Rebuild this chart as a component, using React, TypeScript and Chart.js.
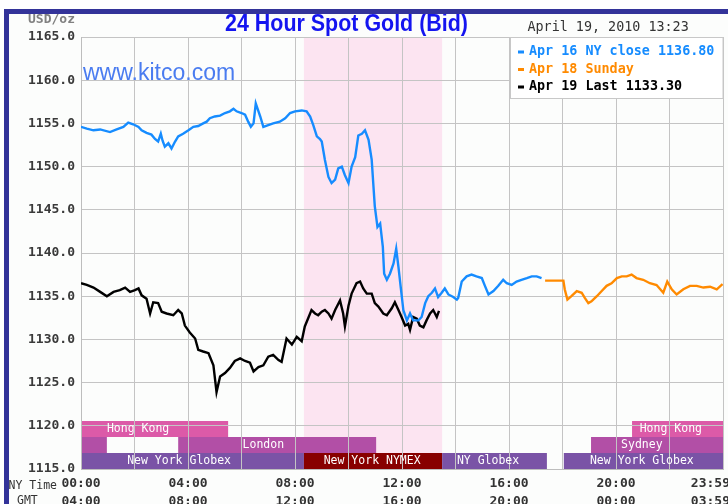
import React, { useEffect, useRef } from 'react';
import { Chart, registerables } from 'chart.js';

Chart.register(...registerables);

// ---------- DATA ----------
const nyTimeLabels = ['00:00', '04:00', '08:00', '12:00', '16:00', '20:00', '23:59'];
const gmtLabels = ['04:00', '08:00', '12:00', '16:00', '20:00', '00:00', '03:59'];
const labelTimes = ['00:00', '04:00', '08:00', '12:00', '16:00', '20:00', '23:59'];

const legendLabels = ['Apr 16 NY close 1136.80', 'Apr 18 Sunday', 'Apr 19 Last 1133.30'];

const apr16Times = ['00:00','00:13','00:28','00:43','01:05','01:20','01:35','01:46','01:57','02:09','02:16','02:27','02:38','02:46','02:53','02:59','03:03','03:08','03:16','03:23','03:31','03:38','03:49','04:01','04:12','04:23','04:34','04:42','04:49','05:00','05:12','05:23','05:34','05:42','05:49','06:00','06:08','06:15','06:21','06:27','06:32','06:36','06:42','06:49','07:00','07:11','07:26','07:38','07:49','08:00','08:15','08:26','08:34','08:41','08:49','08:56','09:00','09:07','09:15','09:22','09:30','09:37','09:45','09:52','10:00','10:07','10:15','10:22','10:30','10:37','10:45','10:52','10:56','10:59','11:05','11:11','11:17','11:20','11:26','11:33','11:41','11:47','11:52','11:57','12:03','12:11','12:18','12:25','12:37','12:44','12:52','12:59','13:07','13:14','13:21','13:29','13:36','13:44','13:55','14:03','14:06','14:14','14:25','14:36','14:47','14:59','15:06','15:14','15:25','15:36','15:47','15:55','16:06','16:17','16:28','16:40','16:51','17:02','17:13'];
const apr16Values = [1154.6,1154.4,1154.2,1154.3,1154.0,1154.3,1154.6,1155.1,1154.9,1154.6,1154.2,1153.9,1153.7,1153.2,1152.9,1153.8,1153.0,1152.3,1152.7,1152.1,1152.9,1153.5,1153.8,1154.2,1154.6,1154.7,1155.0,1155.2,1155.6,1155.8,1155.9,1156.2,1156.4,1156.7,1156.4,1156.2,1156.0,1155.2,1154.6,1155.0,1157.3,1156.7,1155.8,1154.6,1154.8,1155.0,1155.2,1155.6,1156.2,1156.4,1156.5,1156.4,1155.8,1154.8,1153.5,1153.2,1152.9,1150.8,1148.8,1148.1,1148.5,1149.8,1150.0,1149.0,1148.1,1150.0,1151.1,1153.6,1153.8,1154.2,1153.1,1150.8,1147.7,1145.4,1143.0,1143.4,1140.7,1137.6,1136.9,1137.6,1138.8,1140.5,1138.4,1136.1,1133.4,1132.2,1133.0,1132.2,1132.2,1132.6,1134.2,1135.0,1135.4,1135.9,1134.9,1135.4,1135.9,1135.2,1134.9,1134.6,1134.8,1136.7,1137.3,1137.5,1137.3,1137.1,1136.2,1135.2,1135.6,1136.2,1136.9,1136.5,1136.3,1136.7,1136.9,1137.1,1137.3,1137.3,1137.1];

const apr18Times = ['17:21','18:02','18:05','18:11','18:20','18:32','18:43','18:50','18:58','19:05','19:17','19:28','19:39','19:50','20:02','20:13','20:24','20:35','20:46','21:01','21:16','21:31','21:46','21:55','22:05','22:16','22:31','22:46','23:01','23:16','23:31','23:46','23:59'];
const apr18Values = [1136.8,1136.8,1135.8,1134.6,1135.0,1135.6,1135.4,1134.8,1134.2,1134.4,1135.0,1135.6,1136.2,1136.5,1137.1,1137.3,1137.3,1137.5,1137.1,1136.9,1136.5,1136.3,1135.4,1136.7,1135.8,1135.2,1135.8,1136.2,1136.2,1136.0,1136.1,1135.8,1136.4];

const apr19Times = ['00:00','00:13','00:28','00:43','00:58','01:13','01:27','01:39','01:50','02:01','02:09','02:16','02:27','02:35','02:42','02:53','03:01','03:12','03:27','03:38','03:46','03:53','04:04','04:16','04:23','04:34','04:46','04:57','05:04','05:12','05:23','05:34','05:45','05:57','06:08','06:19','06:27','06:38','06:49','07:00','07:11','07:23','07:30','07:41','07:53','08:04','08:15','08:22','08:30','08:37','08:45','08:52','09:00','09:07','09:15','09:22','09:30','09:41','09:48','09:52','10:00','10:07','10:18','10:26','10:33','10:41','10:52','10:59','11:07','11:18','11:26','11:37','11:44','11:52','11:59','12:07','12:14','12:18','12:25','12:33','12:40','12:48','12:55','13:03','13:10','13:18','13:23'];
const apr19Values = [1136.5,1136.3,1136.0,1135.5,1135.0,1135.5,1135.7,1136.0,1135.5,1135.7,1135.9,1135.1,1134.7,1133.0,1134.3,1134.2,1133.2,1133.0,1132.8,1133.4,1133.0,1131.6,1130.8,1130.1,1128.8,1128.6,1128.4,1127.0,1123.9,1125.7,1126.1,1126.7,1127.5,1127.8,1127.5,1127.3,1126.3,1126.8,1127.0,1128.0,1128.2,1127.6,1127.4,1130.1,1129.4,1130.3,1129.8,1131.5,1132.5,1133.4,1133.0,1132.8,1133.2,1133.4,1133.0,1132.4,1133.4,1134.5,1133.0,1131.5,1133.9,1135.3,1136.5,1136.7,1135.9,1135.3,1135.3,1134.2,1133.8,1133.0,1132.8,1133.6,1134.3,1133.4,1132.6,1131.6,1131.8,1131.1,1132.6,1132.4,1131.6,1131.4,1132.2,1133.0,1133.4,1132.6,1133.3];

// trading sessions (NY time)
const sessionNames = ['Hong Kong', '', 'London', 'New York Globex', 'New York NYMEX', 'NY Globex', 'New York Globex', 'Sydney', 'Hong Kong'];
const sessionStarts = ['00:00', '00:00', '03:38', '00:00', '08:20', '13:30', '18:03', '19:04', '20:36'];
const sessionEnds = ['05:30', '00:58', '11:02', '08:20', '13:30', '17:25', '24:00', '24:00', '24:00'];
const sessionRows = [0, 1, 1, 2, 2, 2, 2, 1, 0];
const sessionLabelAt = ['02:08', '', '06:49', '03:40', '10:53', '15:13', '20:58', '20:58', '22:03'];
const nymexBand = ['08:20', '13:30'];

const yMin = 1115;
const yMax = 1165;
const yStep = 5;

// ---------- STYLE ----------
const BLUE = '#168cff';
const ORANGE = '#ff8a00';
const BLACK = '#000000';
const ROW_COLORS = ['#dc5aa8', '#b24fa6', '#7a53a6'];
const NYMEX_COLOR = '#880000';
const MONO = '"DejaVu Sans Mono", "Liberation Mono", monospace';

const toMin = (t: string) => {
  const [h, m] = t.split(':').map(Number);
  return h * 60 + m;
};
const series = (times: string[], values: number[]) =>
  times.map((t, i) => ({ x: toMin(t), y: values[i] }));

const decorPlugin = {
  id: 'decor',
  beforeDraw(chart: any) {
    const { ctx, chartArea: ca, scales } = chart;
    const x = scales.x;
    ctx.save();
    ctx.fillStyle = '#ffffff';
    ctx.fillRect(0, 0, chart.width, chart.height);
    ctx.fillStyle = '#fcfdfc';
    ctx.fillRect(9, 14, chart.width - 9, chart.height - 14);
    // NYMEX band
    const b0 = x.getPixelForValue(toMin(nymexBand[0]));
    const b1 = x.getPixelForValue(toMin(nymexBand[1]));
    ctx.fillStyle = '#fce4f1';
    ctx.fillRect(b0, ca.top, b1 - b0, ca.bottom - ca.top);
    // sessions
    const rowH = 16;
    sessionNames.forEach((name, i) => {
      const s = x.getPixelForValue(toMin(sessionStarts[i]));
      const e = x.getPixelForValue(toMin(sessionEnds[i]));
      const r = sessionRows[i];
      const top = ca.bottom - (3 - r) * rowH;
      ctx.fillStyle = name === 'New York NYMEX' ? NYMEX_COLOR : ROW_COLORS[r];
      ctx.fillRect(s, top, e - s, rowH);
    });
    ctx.restore();
  },
  afterDraw(chart: any) {
    const { ctx, chartArea: ca, scales } = chart;
    const x = scales.x;
    ctx.save();
    // session labels
    const rowH = 16;
    ctx.font = `11.5px ${MONO}`;
    ctx.fillStyle = '#ffffff';
    ctx.textAlign = 'center';
    ctx.textBaseline = 'middle';
    sessionNames.forEach((name, i) => {
      if (!name) return;
      const r = sessionRows[i];
      const cy = ca.bottom - (3 - r) * rowH + rowH / 2 + 0.5;
      ctx.fillText(name, x.getPixelForValue(toMin(sessionLabelAt[i])), cy);
    });

    // x tick labels (NY time + GMT)
    ctx.font = `bold 13px ${MONO}`;
    ctx.fillStyle = '#333333';
    labelTimes.forEach((t, i) => {
      const px = x.getPixelForValue(toMin(t));
      const last = i === labelTimes.length - 1;
      ctx.textAlign = last ? 'right' : 'center';
      const tx = last ? chart.width + 2 : px;
      ctx.fillText(nyTimeLabels[i], tx, ca.bottom + 15);
      ctx.fillText(gmtLabels[i], tx, ca.bottom + 32.5);
    });
    ctx.font = `11.5px ${MONO}`;
    ctx.textAlign = 'right';
    ctx.fillText('NY Time', 57, ca.bottom + 17);
    ctx.textAlign = 'left';
    ctx.fillText('GMT', 17, ca.bottom + 32);

    // unit label
    ctx.font = `bold 13px ${MONO}`;
    ctx.fillStyle = '#808080';
    ctx.textAlign = 'left';
    ctx.fillText('USD/oz', 28, 19.5);

    // title
    const title = '24 Hour Spot Gold (Bid)';
    ctx.font = 'bold 24px "Liberation Sans", Arial, sans-serif';
    const w = ctx.measureText(title).width;
    ctx.save();
    ctx.translate(346.5, 31);
    ctx.scale(243 / w, 1);
    ctx.textAlign = 'center';
    ctx.textBaseline = 'alphabetic';
    ctx.fillStyle = '#1414f0';
    ctx.fillText(title, 0, 0);
    ctx.restore();

    // date
    ctx.font = `13.4px ${MONO}`;
    ctx.fillStyle = '#333333';
    ctx.textAlign = 'left';
    ctx.textBaseline = 'middle';
    ctx.fillText('April 19, 2010 13:23', 527.5, 28);

    // watermark
    ctx.font = '23px "Liberation Sans", Arial, sans-serif';
    ctx.fillStyle = '#4a7cf0';
    ctx.textBaseline = 'alphabetic';
    ctx.fillText('www.kitco.com', 83, 80);

    // legend box
    const lx = 510.5;
    const ly = ca.top + 0.5;
    ctx.fillStyle = '#ffffff';
    ctx.fillRect(lx, ly, ca.right - lx, 61);
    ctx.strokeStyle = '#c8c8c8';
    ctx.lineWidth = 1;
    ctx.strokeRect(lx, ly, ca.right - lx, 61);
    const colors = [BLUE, ORANGE, BLACK];
    ctx.font = `bold 13.4px ${MONO}`;
    ctx.textBaseline = 'middle';
    legendLabels.forEach((lab, i) => {
      const cy = ca.top + 15 + i * 17.5;
      ctx.fillStyle = colors[i];
      ctx.fillRect(518, cy - 1.5, 6, 3);
      ctx.fillText(lab, 529, cy);
    });

    // frame
    ctx.fillStyle = '#333399';
    ctx.fillRect(4, 9, chart.width - 4, 5);
    ctx.fillRect(4, 9, 5, chart.height - 9);
    ctx.restore();
  },
};

export default function App() {
  const canvasRef = useRef<HTMLCanvasElement | null>(null);

  useEffect(() => {
    document.body.style.margin = '0';
    const canvas = canvasRef.current;
    if (!canvas) return;
    const chart = new Chart(canvas, {
      type: 'line',
      data: {
        datasets: [
          { label: legendLabels[0], data: series(apr16Times, apr16Values), borderColor: BLUE, borderWidth: 2.4 },
          { label: legendLabels[1], data: series(apr18Times, apr18Values), borderColor: ORANGE, borderWidth: 2.4 },
          { label: legendLabels[2], data: series(apr19Times, apr19Values), borderColor: BLACK, borderWidth: 2.4 },
        ],
      },
      options: {
        animation: false,
        responsive: false,
        devicePixelRatio: 1,
        layout: { padding: { top: 37, right: 5, left: 0, bottom: 0 } },
        elements: { point: { radius: 0 }, line: { tension: 0 } },
        plugins: { legend: { display: false }, tooltip: { enabled: false }, title: { display: false } },
        scales: {
          x: {
            type: 'linear',
            min: 0,
            max: 1440,
            ticks: { stepSize: 120, display: false },
            grid: { color: '#c4c4c4', lineWidth: 1, drawTicks: false },
            border: { color: '#bdbdbd' },
            afterFit: (s: any) => { s.height = 35; },
          },
          y: {
            min: yMin,
            max: yMax,
            ticks: {
              stepSize: yStep,
              padding: 6,
              color: '#3a3a3a',
              font: { family: MONO, size: 13, weight: 'bold' },
              callback: (v: any) => Number(v).toFixed(1),
            },
            grid: { color: '#c4c4c4', lineWidth: 1, drawTicks: false },
            border: { color: '#bdbdbd' },
            afterFit: (s: any) => { s.width = 81; },
          },
        },
      },
      plugins: [decorPlugin],
    });
    return () => chart.destroy();
  }, []);

  return (
    <div style={{ position: 'absolute', left: 0, top: 0, width: 728, height: 504 }}>
      <canvas ref={canvasRef} width={728} height={504} />
    </div>
  );
}
